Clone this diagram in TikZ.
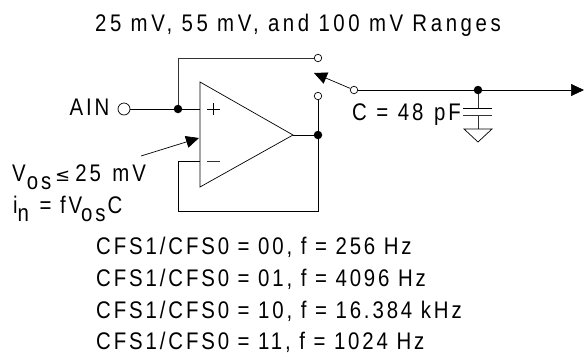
\documentclass[tikz,border=0pt]{standalone}
\usepackage{fontspec}
\setmainfont{Liberation Sans}[LetterSpace=15,FakeStretch=0.85]
\newfontfamily\tightfont{Liberation Sans}[LetterSpace=12,FakeStretch=0.85]
\newfontfamily\symfont{DejaVu Sans}
\usetikzlibrary{arrows.meta}
\newcommand{\subtxt}[1]{\raisebox{-8pt}{#1}}
\tikzset{
  wire/.style={draw=black!80,line width=0.9pt},
  thin wire/.style={draw=black,line width=0.7pt},
  hollow/.style={circle,draw=black,fill=white,line width=0.7pt,inner sep=0pt,minimum size=7.5pt},
  dot/.style={circle,fill=black,inner sep=0pt,minimum size=8.5pt},
  lbl/.style={font=\fontsize{24}{28}\selectfont,inner sep=0pt,anchor=base west},
  tlbl/.style={font=\fontsize{24}{28}\selectfont\tightfont,inner sep=0pt,anchor=base west},
  tip/.style={-{Triangle[length=13pt,width=12pt]}}
}
\begin{document}
\begin{tikzpicture}[x=1pt,y=-1pt]
\useasboundingbox (0,0) rectangle (584,354);
\node[lbl] (t0) at (95,31) {25 mV, 55 mV, and 100 mV Ranges};
% op amp
\coordinate (oa1) at (200,82);
\coordinate (oa2) at (200,187);
\coordinate (oat) at (293,135);
\draw[thin wire,fill=white] (oa1) -- (oat) -- (oa2) -- cycle;
% nodes
\node[hollow,minimum size=12pt] (ain) at (124,109) {};
\node[dot] (j1) at (178,109) {};
\node[hollow] (s1) at (318,58) {};
\node[hollow] (s2) at (318,96) {};
\node[dot] (j2) at (318,135) {};
\node[hollow] (sw) at (354,90) {};
\node[dot] (j3) at (478,90) {};
\coordinate (plus) at (200,109);
\coordinate (minus) at (200,161);
\coordinate (c1) at (178,58);
\coordinate (c2) at (178,161);
\coordinate (c3) at (178,211);
\coordinate (c4) at (318,211);
\coordinate (out) at (584,90);
\coordinate (swtip) at (314,73);
\coordinate (p1) at (478,108);
\coordinate (p2) at (478,115);
\coordinate (g) at (478,129);
\coordinate (ptr0) at (141,156);
\coordinate (ptr1) at (199,138);
% wires
\draw[thin wire] (ain) -- (j1) -- (plus);
\draw[wire] (j1) -- (c1) -- (s1);
\draw[thin wire] (oat) -- (j2);
\draw[thin wire] (s2) -- (j2) -- (c4) -- (c3) -- (c2) -- (minus);
\draw[thin wire,tip] (sw) -- (swtip);
\draw[thin wire] (sw) -- (j3);
\draw[thin wire,tip] (j3) -- (out);
\draw[thin wire,tip] (ptr0) -- (ptr1);
% capacitor
\draw[wire] (j3) -- (p1);
\draw[wire] (p2) -- (g);
\draw[thin wire] (463,108) -- (492,108);
\draw[wire] (463,115) -- (492,115);
\draw[thin wire] (464,129) -- (492,129) -- (478,142) -- cycle;
% signs
\draw[thin wire] (207,109) -- (220,109) (213.5,103) -- (213.5,115);
\draw[wire] (207,161) -- (220,161);
% labels
\node[tlbl] (l1) at (69.5,115) {AIN};
\node[tlbl] (l2) at (352,120) {C\kern1pt\ =\kern1pt\ 48\kern2pt\ pF};
\node[tlbl] (l3) at (12,181) {V\kern1pt\subtxt{os}\kern4pt{\symfont\fontsize{18}{18}\selectfont ≤}\kern1pt\,25\kern3pt\ mV};
\node[tlbl] (l4) at (13,213) {i\subtxt{n}\kern2pt\ =\ fV\kern-1pt\subtxt{os}\kern2pt C};
\node[tlbl] (l5) at (96,254) {CFS1/CFS0 = 00, f = 256 Hz};
\node[tlbl] (l6) at (96,286) {CFS1/CFS0 = 01, f = 4096 Hz};
\node[tlbl] (l7) at (96,318) {CFS1/CFS0 = 10, f = 16.384 kHz};
\node[tlbl] (l8) at (96,349.5) {CFS1/CFS0 = 11, f = 1024 Hz};
\end{tikzpicture}
\end{document}
